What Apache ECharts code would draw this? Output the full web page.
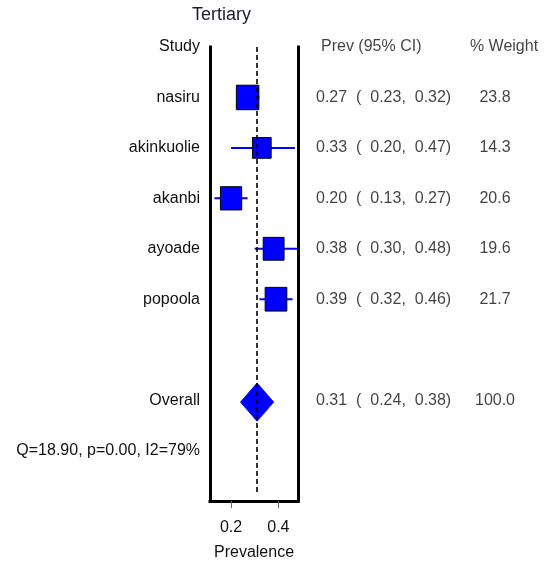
<!DOCTYPE html>
<html><head><meta charset="utf-8">
<script src="https://cdn.jsdelivr.net/npm/echarts@6/dist/echarts.min.js"></script>
<style>html,body{margin:0;padding:0;background:#fff}#c{width:554px;height:562px}</style>
</head><body><div id="c"></div>
<script>
// ---- data ----
const studies   = ['nasiru', 'akinkuolie', 'akanbi', 'ayoade', 'popoola'];
const prev      = [0.27, 0.33, 0.20, 0.38, 0.39];
const ciLow     = [0.23, 0.20, 0.13, 0.30, 0.32];
const ciHigh    = [0.32, 0.47, 0.27, 0.48, 0.46];
const weights   = [23.8, 14.3, 20.6, 19.6, 21.7];
const overall   = {label: 'Overall', prev: 0.31, low: 0.24, high: 0.38, weight: 100.0};
const hetText   = 'Q=18.90, p=0.00, I2=79%';
const xTicks    = [0.2, 0.4];
const titleText = 'Tertiary';
const headers   = {study: 'Study', prev: 'Prev (95% CI)', weight: '% Weight'};
const xName     = 'Prevalence';

// row layout (row 0 = header)
const studyRows = studies.map((_, i) => i + 1);
const overallRow = studies.length + 2;
const hetRow = overallRow + 1;
const rowLabels = {0: headers.study, [overallRow]: overall.label, [hetRow]: hetText};
studies.forEach((s, i) => rowLabels[studyRows[i]] = s);

const FONT = 'Liberation Sans, Arial, sans-serif';
const TXT = {color: '#111', fontSize: 16, fontFamily: FONT};

const studyData = studies.map((s, i) => [prev[i], ciLow[i], ciHigh[i], weights[i], studyRows[i]]);
const ciStr = (e, l, h) => e.toFixed(2) + '  (  ' + l.toFixed(2) + ',  ' + h.toFixed(2) + ')';

const prevTextData = studies.map((s, i) => ({value: [16, studyRows[i]], txt: ciStr(prev[i], ciLow[i], ciHigh[i])}));
prevTextData.push({value: [16, overallRow], txt: ciStr(overall.prev, overall.low, overall.high)});
prevTextData.push({value: [21, 0], txt: headers.prev});
const wTextData = studies.map((s, i) => ({value: [195, studyRows[i]], txt: weights[i].toFixed(1)}));
wTextData.push({value: [195, overallRow], txt: overall.weight.toFixed(1)});
wTextData.push({value: [204, 0], txt: headers.weight});

const chart = echarts.init(document.getElementById('c'), null, {renderer: 'canvas'});
const blue = '#0000ff';
chart.setOption({
  animation: false,
  backgroundColor: '#fff',
  graphic: [{type: 'text', left: 192, top: 6, style: {text: titleText, fill: '#1d1d2b', fontSize: 18, fontFamily: FONT}}],
  grid: [
    {left: 210, top: 47, width: 88, height: 454, outerBoundsMode: 'none', containLabel: false},
    {left: 300, top: 47, width: 254, height: 454, outerBoundsMode: 'none', containLabel: false}
  ],
  xAxis: [
    {gridIndex: 0, type: 'value', min: 0.111, max: 0.483,
     axisLine: {show: true, onZero: false, lineStyle: {color: '#000', width: 3, cap: 'square'}},
     axisTick: {show: true, customValues: xTicks, length: 7, lineStyle: {color: '#666', width: 1}},
     axisLabel: {customValues: xTicks, margin: 19, formatter: v => v.toFixed(1), ...TXT},
     splitLine: {show: false},
     name: xName, nameLocation: 'middle', nameGap: 44, nameTextStyle: TXT},
    {gridIndex: 1, type: 'value', min: 0, max: 254, show: false}
  ],
  yAxis: [
    {gridIndex: 0, type: 'value', min: 0, max: 9, inverse: true,
     axisLine: {show: true, onZero: false, lineStyle: {color: '#000', width: 3, cap: 'square'}},
     axisTick: {show: false},
     splitLine: {show: false},
     axisLabel: {customValues: Object.keys(rowLabels).map(Number), margin: 10,
                 formatter: v => rowLabels[v] || '', ...TXT}},
    {gridIndex: 0, type: 'value', min: 0, max: 9, inverse: true, position: 'right',
     axisLine: {show: true, onZero: false, lineStyle: {color: '#000', width: 3, cap: 'square'}},
     axisTick: {show: false}, axisLabel: {show: false}, splitLine: {show: false}},
    {gridIndex: 1, type: 'value', min: 0, max: 9, inverse: true, show: false}
  ],
  series: [
    {type: 'scatter', xAxisIndex: 0, yAxisIndex: 0, data: [], silent: true,
     markLine: {silent: true, symbol: 'none', label: {show: false},
                lineStyle: {color: '#000', width: 1.6, type: [5, 3]},
                data: [[{coord: [overall.prev, 0]}, {coord: [overall.prev, 8.88]}]]}},
    {type: 'custom', xAxisIndex: 0, yAxisIndex: 0, data: studyData, silent: true,
     renderItem(params, api) {
       const y = api.value(4);
       const c = api.coord([api.value(0), y]);
       const l = api.coord([api.value(1), y]);
       const h = api.coord([api.value(2), y]);
       const w = 13 + 0.4 * api.value(3);
       const hh = w + 2;
       return {type: 'group', children: [
         {type: 'line', shape: {x1: l[0], y1: l[1], x2: h[0], y2: h[1]}, style: {stroke: blue, lineWidth: 2}},
         {type: 'rect', shape: {x: c[0] - w / 2, y: c[1] - hh / 2, width: w, height: hh},
          style: {fill: blue, stroke: '#000', lineWidth: 1}}
       ]};
     }},
    {type: 'custom', xAxisIndex: 0, yAxisIndex: 0, silent: true,
     data: [[overall.prev, overall.low, overall.high, overallRow]],
     renderItem(params, api) {
       const y = api.value(3);
       const c = api.coord([api.value(0), y]);
       const l = api.coord([api.value(1), y]);
       const h = api.coord([api.value(2), y]);
       const hh = 19;
       return {type: 'polygon', shape: {points: [[l[0], c[1] + 2], [c[0], c[1] + 2 - hh], [h[0], c[1] + 2], [c[0], c[1] + 2 + hh]]},
               style: {fill: blue, stroke: blue, lineWidth: 1}};
     }},
    {type: 'scatter', xAxisIndex: 1, yAxisIndex: 2, symbolSize: 0, silent: true, data: prevTextData,
     label: {show: true, position: 'right', distance: 0, align: 'left', formatter: p => p.data.txt, ...TXT}},
    {type: 'scatter', xAxisIndex: 1, yAxisIndex: 2, symbolSize: 0, silent: true, data: wTextData,
     label: {show: true, position: 'inside', align: 'center', formatter: p => p.data.txt, ...TXT}}
  ]
});
</script></body></html>
